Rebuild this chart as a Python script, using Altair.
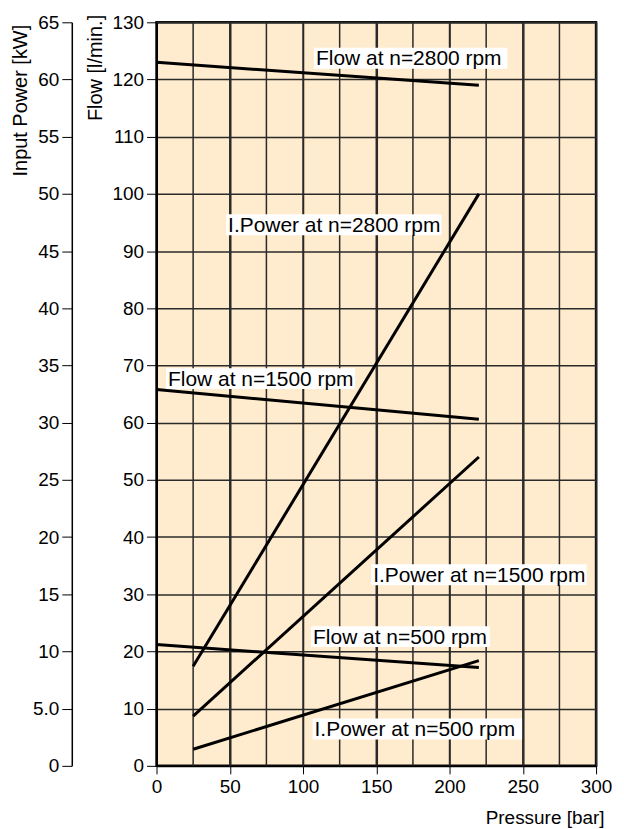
import altair as alt
import pandas as pd

# Data
pressure_start = [0, 0, 0]          # flow curves start (bar)
pressure_end = [220, 220, 220]
flow_series = ["Flow at n=2800 rpm", "Flow at n=1500 rpm", "Flow at n=500 rpm"]
flow_start = [123.0, 65.8, 21.2]    # l/min
flow_end = [119.0, 60.6, 17.2]

power_series = ["I.Power at n=2800 rpm", "I.Power at n=1500 rpm", "I.Power at n=500 rpm"]
power_p_start = [25, 25, 25]
power_p_end = [220, 220, 220]
power_start = [8.7, 4.35, 1.45]     # kW
power_end = [50.0, 27.0, 9.2]

x_ticks = [0, 50, 100, 150, 200, 250, 300]
flow_ticks = list(range(0, 131, 10))
power_ticks = list(range(0, 66, 5))

# label annotations (text, left x in bar, y in l/min, box width in bar)
label_text = flow_series + power_series
label_x = [107.5, 6.5, 105.5, 47.5, 146.5, 106.5]
label_y = [123.7, 67.7, 22.6, 94.6, 33.4, 6.45]
label_w = [132, 129, 122, 147, 147, 143]

rows = []
for s, a, b, c, d in zip(flow_series, pressure_start, pressure_end, flow_start, flow_end):
    rows.append({"series": s, "p": a, "v": c, "o": 0})
    rows.append({"series": s, "p": b, "v": d, "o": 1})
flow_df = pd.DataFrame(rows)

rows = []
for s, a, b, c, d in zip(power_series, power_p_start, power_p_end, power_start, power_end):
    rows.append({"series": s, "p": a, "v": c, "o": 0})
    rows.append({"series": s, "p": b, "v": d, "o": 1})
power_df = pd.DataFrame(rows)

lab_df = pd.DataFrame({"text": label_text, "x": label_x, "y": label_y,
                       "x2": [a + b for a, b in zip(label_x, label_w)]})

FONT = "Liberation Sans"
xscale = alt.Scale(domain=[0, 300], nice=False)
yflow = alt.Scale(domain=[0, 130], nice=False)
ypow = alt.Scale(domain=[0, 65], nice=False)

xaxis = alt.Axis(values=x_ticks, title="Pressure [bar]", grid=True, gridColor="#2a2a2a",
                 gridOpacity=1, gridWidth=1.5, labelFlush=False,
                 labelFont=FONT, labelFontSize=19, labelColor="#000", labelPadding=4,
                 tickColor="#000", tickSize=8, domainColor="#000", domainWidth=2,
                 titleFont=FONT, titleFontSize=19, titleFontWeight="normal", titleColor="#000",
                 titleAnchor="end", titleAlign="right", titlePadding=12, titleX=449)

# vertical grid every 25 bar
grid_x = alt.Chart(pd.DataFrame({"g": list(range(25, 300, 25))})).mark_rule(
    color="#2a2a2a", strokeWidth=1.5).encode(x=alt.X("g:Q", scale=xscale))

flow_axis = alt.Axis(values=flow_ticks, title="Flow [l/min.]", grid=True, gridColor="#2a2a2a",
                     gridOpacity=1, gridWidth=1.5, labelFlush=False,
                     labelFont=FONT, labelFontSize=19, labelColor="#000", labelPadding=3,
                     tickColor="#000", tickSize=10, domainColor="#000", domainWidth=2,
                     titleFont=FONT, titleFontSize=20, titleFontWeight="normal", titleColor="#000",
                     titleAnchor="end", titlePadding=6, titleY=-8)

flow_lines = alt.Chart(flow_df).mark_line(color="#000", strokeWidth=3).encode(
    x=alt.X("p:Q", scale=xscale, axis=xaxis),
    y=alt.Y("v:Q", scale=yflow, axis=flow_axis),
    detail="series:N", order="o:Q")

boxes = alt.Chart(lab_df).mark_rect(color="white", height=21).encode(
    x=alt.X("x:Q", scale=xscale), x2="x2:Q", y=alt.Y("y:Q", scale=yflow))
texts = alt.Chart(lab_df).mark_text(align="left", baseline="middle", dx=2, dy=1, font=FONT,
                                    fontSize=21, color="#000").encode(
    x=alt.X("x:Q", scale=xscale), y=alt.Y("y:Q", scale=yflow), text="text:N")

flow_layer = alt.layer(grid_x, flow_lines, boxes, texts)

power_axis = alt.Axis(values=power_ticks, title="Input Power [kW]", orient="left", offset=85,
                      grid=False, labelFlush=False,
                      labelExpr="datum.value == 5 ? '5.0' : datum.label",
                      labelFont=FONT, labelFontSize=19, labelColor="#000", labelPadding=3,
                      tickColor="#000", tickSize=10, domainColor="#000", domainWidth=1.5,
                      titleFont=FONT, titleFontSize=20, titleFontWeight="normal", titleColor="#000",
                      titleAnchor="end", titlePadding=2, titleY=2)

power_lines = alt.Chart(power_df).mark_line(color="#000", strokeWidth=3).encode(
    x=alt.X("p:Q", scale=xscale),
    y=alt.Y("v:Q", scale=ypow, axis=power_axis),
    detail="series:N", order="o:Q")

chart = alt.layer(flow_layer, power_lines).resolve_scale(y="independent").properties(
    width=441, height=746,
    background="white",
    autosize=alt.AutoSizeParams(type="none"),
    padding={"left": 149, "top": 13, "right": 20, "bottom": 62},
).configure_view(fill="#FFEBCD", stroke="#111", strokeWidth=2.5)

chart.save("out.html", embed_options={"renderer": "svg", "actions": False})
